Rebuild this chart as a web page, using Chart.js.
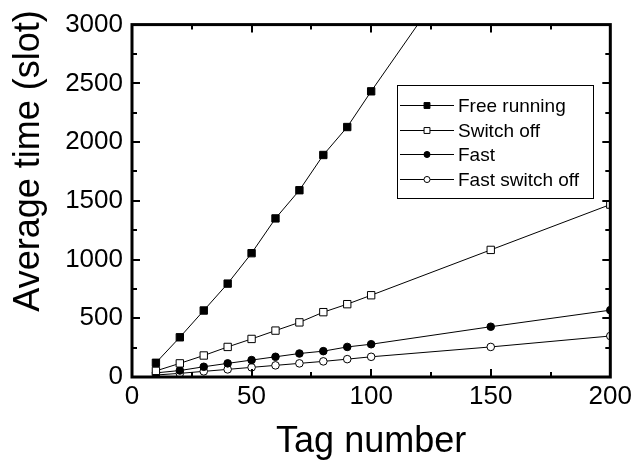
<!DOCTYPE html>
<html>
<head>
<meta charset="utf-8">
<script src="https://cdn.jsdelivr.net/npm/chart.js@4.4.1/dist/chart.umd.min.js"></script>
<style>
  html, body { margin: 0; padding: 0; background: #fff; }
  canvas { display: block; }
</style>
</head>
<body>
<canvas id="chart" width="636" height="468"></canvas>
<script>
// Data
const tagsFree = [10, 20, 30, 40, 50, 60, 70, 80, 90, 100, 150];
const tags = [10, 20, 30, 40, 50, 60, 70, 80, 90, 100, 150, 200];
const freeRunning = [121, 338, 566, 795, 1054, 1350, 1590, 1890, 2128, 2432, 3890];
const switchOff = [52, 116, 183, 256, 324, 395, 465, 552, 620, 696, 1082, 1468];
const fast = [35, 55, 87, 116, 144, 172, 200, 220, 256, 279, 428, 569];
const fastSwitchOff = [17, 31, 48, 65, 82, 99, 116, 133, 152, 172, 256, 349];

const xTickValues = [0, 50, 100, 150, 200];
const yTickValues = [0, 500, 1000, 1500, 2000, 2500, 3000];

const FONT = "'Liberation Sans', Arial, Helvetica, sans-serif";

function pairs(xs, ys) {
  return ys.map((y, i) => ({ x: xs[i], y: y }));
}

function series(label, xs, ys, style, radius, fill) {
  return {
    label: label,
    data: pairs(xs, ys),
    borderColor: '#000',
    borderWidth: 1,
    pointStyle: style,
    pointRadius: radius,
    pointBorderWidth: 1,
    pointBorderColor: '#000',
    pointBackgroundColor: fill,
    backgroundColor: fill,
    tension: 0,
    fill: false
  };
}

// frame round the plot with inward ticks on all four sides
const framePlugin = {
  id: 'frame',
  afterDatasetsDraw(chart) {
    const { ctx, chartArea: a, scales } = chart;
    const xs = scales.x, ys = scales.y;
    ctx.save();
    ctx.strokeStyle = '#000';
    ctx.lineWidth = 2;
    xTickValues.forEach((v, i) => {
      const px = Math.round(xs.getPixelForValue(v));
      ctx.beginPath();
      ctx.moveTo(px, a.bottom); ctx.lineTo(px, a.bottom - 8);
      ctx.moveTo(px, a.top); ctx.lineTo(px, a.top + 8);
      ctx.stroke();
      if (i < xTickValues.length - 1) {
        const mx = Math.round(xs.getPixelForValue((v + xTickValues[i + 1]) / 2));
        ctx.beginPath();
        ctx.moveTo(mx, a.bottom); ctx.lineTo(mx, a.bottom - 5);
        ctx.moveTo(mx, a.top); ctx.lineTo(mx, a.top + 5);
        ctx.stroke();
      }
    });
    yTickValues.forEach((v, i) => {
      const py = Math.round(ys.getPixelForValue(v));
      ctx.beginPath();
      ctx.moveTo(a.left, py); ctx.lineTo(a.left + 8, py);
      ctx.moveTo(a.right, py); ctx.lineTo(a.right - 8, py);
      ctx.stroke();
      if (i < yTickValues.length - 1) {
        const my = Math.round(ys.getPixelForValue((v + yTickValues[i + 1]) / 2));
        ctx.beginPath();
        ctx.moveTo(a.left, my); ctx.lineTo(a.left + 5, my);
        ctx.moveTo(a.right, my); ctx.lineTo(a.right - 5, my);
        ctx.stroke();
      }
    });
    ctx.lineWidth = 3;
    ctx.strokeRect(a.left, a.top, a.right - a.left, a.bottom - a.top);

    // y axis title
    ctx.fillStyle = '#000';
    ctx.font = '36px ' + FONT;
    ctx.textAlign = 'center';
    ctx.textBaseline = 'middle';
    ctx.translate(29, 161);
    ctx.rotate(-Math.PI / 2);
    ctx.fillText('Average time (slot)', 0, 0);
    ctx.restore();
  }
};

function drawMarker(ctx, style, x, y, r, fill) {
  ctx.beginPath();
  if (style === 'rect') {
    const s = r * Math.SQRT1_2;
    ctx.rect(x - s, y - s, 2 * s, 2 * s);
  } else {
    ctx.arc(x, y, r, 0, Math.PI * 2);
  }
  ctx.fillStyle = fill;
  ctx.fill();
  ctx.stroke();
}

// boxed legend inside the plot, line-marker-line like the original
const legendPlugin = {
  id: 'boxLegend',
  afterDraw(chart) {
    const ctx = chart.ctx;
    ctx.save();
    ctx.fillStyle = '#fff';
    ctx.fillRect(397, 85, 197, 114);
    ctx.strokeStyle = '#000';
    ctx.lineWidth = 1;
    ctx.strokeRect(397.5, 85.5, 196, 113);
    ctx.font = '19px ' + FONT;
    ctx.textBaseline = 'middle';
    ctx.textAlign = 'left';
    chart.data.datasets.forEach((ds, i) => {
      const y = Math.round(105 + i * 24.6) + 0.5;
      ctx.strokeStyle = '#000';
      ctx.lineWidth = 1;
      ctx.beginPath();
      ctx.moveTo(400, y); ctx.lineTo(454, y);
      ctx.stroke();
      drawMarker(ctx, ds.pointStyle, 427, y, ds.pointRadius * 0.8, ds.pointBackgroundColor);
      ctx.fillStyle = '#000';
      ctx.fillText(ds.label, 458, y + 1);
    });
    ctx.restore();
  }
};

new Chart(document.getElementById('chart'), {
  type: 'line',
  data: {
    datasets: [
      series('Free running', tagsFree, freeRunning, 'rect', 5.2, '#000'),
      series('Switch off', tags, switchOff, 'rect', 5.2, '#fff'),
      series('Fast', tags, fast, 'circle', 3.8, '#000'),
      series('Fast switch off', tags, fastSwitchOff, 'circle', 3.8, '#fff')
    ]
  },
  options: {
    responsive: false,
    animation: false,
    devicePixelRatio: 1,
    layout: { padding: { top: 22, right: 25, left: 0, bottom: 0 } },
    plugins: {
      legend: { display: false },
      tooltip: { enabled: false }
    },
    scales: {
      x: {
        type: 'linear',
        min: 0,
        max: 200,
        afterBuildTicks: (scale) => { scale.ticks = xTickValues.map(v => ({ value: v })); },
        afterFit: (scale) => { scale.height = 91; },
        grid: { display: false, drawTicks: false },
        border: { display: false },
        ticks: {
          color: '#000', padding: 4, maxRotation: 0,
          font: { family: FONT, size: 26 },
          callback: (v) => String(v)
        },
        title: {
          display: true,
          text: 'Tag number',
          color: '#000',
          padding: { top: 0, bottom: 4 },
          font: { family: FONT, size: 36 }
        }
      },
      y: {
        type: 'linear',
        min: 0,
        max: 3000,
        afterBuildTicks: (scale) => { scale.ticks = yTickValues.map(v => ({ value: v })); },
        afterFit: (scale) => { scale.width = 132; },
        grid: { display: false, drawTicks: false },
        border: { display: false },
        ticks: {
          color: '#000', padding: 9,
          font: { family: FONT, size: 26 },
          callback: (v) => String(v)
        }
      }
    }
  },
  plugins: [framePlugin, legendPlugin]
});
</script>
</body>
</html>
